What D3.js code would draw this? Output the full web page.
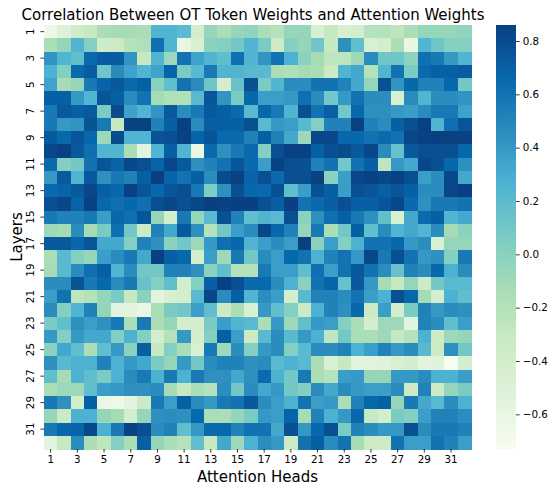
<!DOCTYPE html>
<html>
<head>
<meta charset="utf-8">
<script src="https://cdn.jsdelivr.net/npm/d3@7"></script>
<style>
  html, body { margin: 0; padding: 0; background: #fff; }
  svg text { font-family: "DejaVu Sans", sans-serif; fill: #000; }
</style>
</head>
<body>
<svg id="chart" width="549" height="486"></svg>
<script>
// ---- data ----
const title = "Correlation Between OT Token Weights and Attention Weights";
const xLabel = "Attention Heads";
const yLabel = "Layers";
const heads = d3.range(1, 33);   // attention heads 1..32
const layers = d3.range(1, 33);  // layers 1..32
const headTicks = [1,3,5,7,9,11,13,15,17,19,21,23,25,27,29,31];
const layerTicks = [1,3,5,7,9,11,13,15,17,19,21,23,25,27,29,31];
const colorbarTicks = [0.8, 0.6, 0.4, 0.2, 0.0, -0.2, -0.4, -0.6];
const palette = ["#f7fcf0","#e0f3db","#ccebc5","#a8ddb5","#7bccc4","#4eb3d3","#2b8cbe","#0868ac","#084081"];

const row01 = [-0.65,-0.5,-0.35,-0.3,-0.15,-0.12,-0.12,-0.15,0.25,0.25,0.2,-0.4,-0.05,-0.15,-0.05,-0.03,-0.15,-0.2,-0.05,-0.05,-0.45,-0.3,-0.45,-0.4,-0.2,-0.2,-0.25,-0.15,-0.05,-0.05,-0.05,-0.03];
const row02 = [-0.15,-0.05,0.25,0.03,-0.35,-0.33,-0.2,-0.17,0.62,0.25,-0.6,-0.45,0.0,0.03,0.1,0.25,0.07,-0.33,0.03,-0.05,0.12,-0.3,0.44,0.18,-0.45,-0.4,-0.15,-0.6,0.25,0.12,0.03,0.03];
const row03 = [0.42,0.25,0.18,0.65,0.72,0.72,0.42,-0.3,0.25,-0.08,0.6,0.35,0.25,0.18,0.62,0.25,0.42,0.6,0.27,0.0,-0.12,-0.25,-0.25,-0.08,0.47,0.12,0.12,-0.02,0.62,0.57,0.4,0.25];
const row04 = [0.27,0.03,0.65,0.72,0.12,0.47,0.35,0.25,0.35,0.68,0.07,0.22,0.57,0.25,0.25,0.22,0.22,-0.15,-0.17,-0.12,-0.15,-0.33,0.25,0.32,-0.2,0.25,0.6,0.07,0.65,0.7,0.7,0.72];
const row05 = [0.35,-0.12,-0.05,0.57,0.68,0.74,0.65,0.7,0.0,0.18,0.6,0.47,0.12,-0.4,0.15,0.77,0.07,0.25,0.47,0.47,0.6,0.6,0.52,0.32,-0.05,0.78,0.42,0.66,0.52,0.52,0.66,0.1];
const row06 = [0.7,0.7,0.4,0.25,0.75,0.7,0.46,0.6,-0.12,-0.17,-0.17,0.22,0.75,0.42,0.07,0.66,0.37,0.37,0.4,0.62,0.47,0.1,0.4,0.6,0.46,0.46,-0.45,0.47,0.25,0.46,0.46,0.42];
const row07 = [0.57,0.73,0.7,0.73,0.07,0.8,0.35,0.25,0.42,0.73,0.47,0.57,0.73,0.7,0.65,0.22,0.66,0.57,0.25,0.78,0.6,0.7,0.1,0.66,0.44,0.44,0.4,0.37,0.47,0.57,0.57,0.35];
const row08 = [0.57,0.4,0.42,0.76,0.57,-0.3,0.85,0.85,0.52,0.7,0.85,0.46,0.7,0.7,0.7,0.78,0.22,0.4,0.37,0.22,0.03,0.52,0.52,0.85,0.52,0.47,0.7,0.78,0.85,0.25,0.62,0.75];
const row09 = [0.73,0.66,0.75,0.66,-0.08,0.8,0.25,0.25,0.76,0.78,0.85,0.68,0.76,0.65,0.65,0.52,0.7,0.52,0.32,-0.08,0.82,0.82,0.66,0.66,0.6,0.65,0.6,0.82,0.85,0.86,0.85,0.85];
const row10 = [0.82,0.86,0.73,0.62,0.25,0.25,-0.15,-0.55,0.25,0.7,0.25,-0.62,0.65,0.44,0.57,0.65,0.03,0.78,0.85,0.85,0.7,0.78,0.8,0.73,0.82,0.47,0.15,0.73,0.78,0.78,0.78,0.66];
const row11 = [0.65,0.03,0.1,0.6,0.75,0.68,0.82,0.78,0.68,0.82,0.73,0.44,0.52,0.6,0.75,0.65,0.37,0.85,0.78,0.78,0.52,0.6,0.1,0.6,0.7,-0.25,0.4,0.32,0.82,0.78,0.66,0.44];
const row12 = [0.4,0.73,0.25,0.73,0.44,0.57,0.52,0.7,0.86,0.68,0.6,0.7,0.46,0.8,0.85,0.68,0.78,0.65,0.78,0.78,0.85,0.0,0.37,0.82,0.85,0.82,0.85,0.78,0.37,0.46,0.82,0.32];
const row13 = [0.65,0.68,0.73,0.82,0.7,0.66,0.85,0.75,0.66,0.75,0.78,0.57,0.05,0.44,0.78,0.66,0.65,0.78,0.18,0.37,0.78,0.7,0.37,0.78,0.75,0.7,0.75,0.7,0.46,0.46,0.82,0.86];
const row14 = [0.78,0.82,0.68,0.85,0.66,0.62,0.66,0.62,0.78,0.82,0.78,0.82,0.86,0.85,0.86,0.86,0.78,0.7,0.86,0.6,0.65,0.7,0.78,0.7,0.7,0.75,0.82,0.65,0.44,0.57,0.57,0.6];
const row15 = [0.57,0.52,0.52,0.57,0.37,0.66,0.62,0.75,-0.05,-0.4,0.57,-0.05,0.22,0.78,0.52,0.18,0.25,0.22,0.78,0.0,0.44,0.62,0.7,0.57,0.44,0.18,-0.45,0.32,0.65,0.7,0.25,0.32];
const row16 = [-0.08,-0.12,0.46,-0.12,0.07,0.62,0.1,-0.33,0.52,0.32,0.73,0.44,-0.2,0.1,0.37,0.46,0.82,0.66,0.52,-0.05,0.57,-0.15,0.1,0.7,0.18,0.47,0.25,0.32,0.25,0.46,-0.12,0.0];
const row17 = [0.73,0.73,0.66,0.75,0.32,0.32,0.03,0.52,0.44,0.0,0.1,-0.08,0.4,0.62,0.66,0.25,0.37,0.46,0.37,0.86,0.0,0.37,0.03,0.27,0.6,0.6,0.66,0.4,0.46,-0.45,-0.05,-0.05];
const row18 = [-0.15,0.22,0.03,-0.05,0.37,0.47,0.57,0.32,0.86,0.7,0.66,-0.4,0.37,-0.08,0.57,0.1,0.47,0.37,0.66,0.6,0.27,0.52,0.6,0.4,0.82,0.57,0.78,0.6,0.4,0.44,0.03,0.57];
const row19 = [-0.12,0.22,0.46,0.62,0.7,0.25,0.46,0.1,0.1,0.52,0.52,0.44,0.0,0.18,-0.2,-0.2,0.57,0.37,0.37,0.18,0.62,0.37,0.6,0.73,0.6,0.46,0.15,0.52,0.46,0.66,0.27,0.47];
const row20 = [0.46,0.46,0.76,0.57,0.66,0.47,0.57,0.15,0.03,0.18,-0.4,0.03,0.7,0.86,0.78,0.65,0.66,0.46,0.27,0.0,0.6,0.68,0.15,0.73,0.4,-0.12,-0.3,-0.05,-0.33,0.1,0.22,0.22];
const row21 = [0.37,0.6,-0.25,-0.2,-0.05,0.07,-0.3,0.0,-0.55,-0.45,-0.4,0.22,0.82,0.47,0.7,0.25,0.46,0.37,-0.4,0.22,0.52,0.52,0.47,0.6,0.37,0.27,0.78,0.66,-0.12,-0.4,0.27,0.18];
const row22 = [0.47,0.03,0.25,0.52,-0.05,-0.55,-0.55,-0.6,-0.15,0.07,0.1,0.37,0.18,-0.33,-0.15,-0.45,0.4,0.18,0.03,-0.33,0.27,0.52,0.44,0.66,-0.33,0.37,-0.4,0.07,0.52,0.4,0.46,0.44];
const row23 = [0.07,0.18,0.44,0.37,0.44,0.57,-0.15,0.57,-0.15,-0.05,-0.4,-0.4,0.07,0.37,0.25,0.22,-0.15,0.4,-0.08,0.18,0.4,0.37,0.03,-0.15,-0.4,-0.08,-0.08,-0.55,0.52,0.46,0.18,0.37];
const row24 = [0.4,0.03,0.4,0.32,0.32,0.03,0.27,0.03,-0.4,-0.2,0.4,-0.4,0.03,0.7,0.37,-0.33,0.22,0.46,0.22,0.4,0.27,-0.25,0.1,-0.15,-0.15,-0.08,-0.3,-0.2,0.27,-0.33,-0.08,-0.05];
const row25 = [0.0,0.32,0.18,-0.15,0.18,0.4,0.0,0.7,-0.3,0.03,-0.15,-0.45,0.57,-0.08,0.46,0.03,0.4,0.46,0.03,0.22,0.47,0.46,0.52,0.27,0.37,0.52,0.4,0.46,0.22,-0.33,0.44,0.1];
const row26 = [0.44,0.22,0.27,0.27,0.52,0.27,0.4,0.32,0.07,-0.05,0.4,0.1,0.46,0.52,0.52,0.44,0.47,0.22,0.27,0.22,-0.15,-0.45,-0.3,-0.55,-0.55,-0.52,-0.45,-0.4,-0.55,-0.52,-0.73,-0.4];
const row27 = [0.18,-0.12,0.27,0.18,0.07,0.27,0.47,0.57,0.27,0.57,0.27,0.57,0.44,0.44,0.32,0.44,0.65,0.27,0.1,0.57,-0.15,-0.2,0.37,0.4,-0.05,-0.05,0.4,0.4,0.47,0.27,0.27,0.37];
const row28 = [-0.15,-0.08,-0.08,0.18,0.37,0.4,0.44,0.44,0.47,-0.12,-0.3,-0.15,-0.2,0.46,0.1,0.46,0.32,0.4,0.1,0.03,0.47,0.32,0.47,0.4,0.37,0.37,0.47,-0.33,0.52,-0.33,-0.05,0.07];
const row29 = [0.57,0.44,-0.4,0.7,-0.62,-0.65,-0.55,-0.33,0.57,0.37,0.7,0.47,0.4,0.57,0.6,0.73,0.46,0.37,0.27,0.6,0.37,0.4,-0.15,0.52,0.66,0.7,-0.05,0.57,0.32,0.22,0.46,0.27];
const row30 = [-0.05,-0.33,0.27,0.27,-0.05,-0.12,-0.4,-0.05,0.44,0.46,0.44,0.66,-0.15,-0.15,-0.05,0.07,0.4,0.37,0.68,-0.12,0.52,0.27,0.4,0.66,-0.3,-0.4,0.07,0.03,0.37,0.52,0.52,0.46];
const row31 = [0.57,0.66,0.68,0.82,0.27,0.57,0.85,0.78,0.46,0.52,0.18,0.4,0.65,0.66,0.52,0.6,0.6,0.32,0.78,0.4,0.66,0.78,0.07,0.52,0.46,0.4,0.4,0.78,0.47,0.57,0.57,0.52];
const row32 = [-0.55,-0.3,0.46,-0.15,-0.25,0.03,-0.15,0.7,-0.05,-0.15,-0.2,0.18,-0.3,0.32,-0.08,0.27,0.46,0.4,-0.33,0.6,0.7,0.47,0.6,-0.12,-0.33,-0.33,0.6,0.37,0.37,0.6,0.52,0.37];

const values = [row01,row02,row03,row04,row05,row06,row07,row08,row09,row10,row11,row12,row13,row14,row15,row16,
                row17,row18,row19,row20,row21,row22,row23,row24,row25,row26,row27,row28,row29,row30,row31,row32];

// ---- layout ----
const svg = d3.select("#chart");
const plot = {left: 44, top: 25, right: 471, bottom: 449};
const cbar = {left: 496, width: 20};
const tickFont = "10.3px";
const tickLen = 3.6;

const x = d3.scaleBand().domain(heads).range([plot.left, plot.right]);
const y = d3.scaleBand().domain(layers).range([plot.top, plot.bottom]);

const allVals = values.flat();
const [vmin, vmax] = d3.extent(allVals);
const color = d3.scaleLinear()
  .domain(palette.map((_, i) => vmin + (vmax - vmin) * i / (palette.length - 1)))
  .range(palette)
  .interpolate(d3.interpolateRgb);

// cells
const cells = [];
values.forEach((row, i) => row.forEach((v, j) => cells.push({layer: layers[i], head: heads[j], v})));
svg.append("g").selectAll("rect").data(cells).join("rect")
  .attr("x", d => x(d.head))
  .attr("y", d => y(d.layer))
  .attr("width", x.bandwidth() + 0.5)
  .attr("height", y.bandwidth() + 0.5)
  .attr("fill", d => color(d.v))
  .attr("shape-rendering", "crispEdges");

// x axis
const xAxis = svg.append("g")
  .attr("transform", `translate(0,${plot.bottom})`)
  .call(d3.axisBottom(x).tickValues(headTicks).tickSize(tickLen).tickPadding(3.5));
xAxis.select(".domain").remove();
xAxis.selectAll("line").attr("stroke", "#000").attr("stroke-width", 0.8);
xAxis.selectAll("text").attr("font-size", tickFont).attr("font-family", "DejaVu Sans");

// y axis
const yAxis = svg.append("g")
  .attr("transform", `translate(${plot.left},0)`)
  .call(d3.axisLeft(y).tickValues(layerTicks).tickSize(tickLen).tickPadding(3.5));
yAxis.select(".domain").remove();
yAxis.selectAll("line").attr("stroke", "#000").attr("stroke-width", 0.8);
yAxis.selectAll("text")
  .attr("font-size", tickFont).attr("font-family", "DejaVu Sans")
  .attr("x", 0).attr("dy", 0)
  .attr("text-anchor", "middle")
  .attr("transform", "translate(-10.3,0) rotate(-90)");

// colorbar
const cScale = d3.scaleLinear().domain([vmin, vmax]).range([plot.bottom, plot.top]);
const defs = svg.append("defs");
const grad = defs.append("linearGradient").attr("id", "cbgrad")
  .attr("x1", 0).attr("y1", 1).attr("x2", 0).attr("y2", 0);
grad.selectAll("stop").data(palette).join("stop")
  .attr("offset", (d, i) => i / (palette.length - 1))
  .attr("stop-color", d => d);
svg.append("rect")
  .attr("x", cbar.left).attr("y", plot.top)
  .attr("width", cbar.width).attr("height", plot.bottom - plot.top)
  .attr("fill", "url(#cbgrad)");
const cAxis = svg.append("g")
  .attr("transform", `translate(${cbar.left + cbar.width},0)`)
  .call(d3.axisRight(cScale).tickValues(colorbarTicks).tickFormat(d3.format(".1f")).tickSize(tickLen).tickPadding(3.2));
cAxis.select(".domain").remove();
cAxis.selectAll("line").attr("stroke", "#000").attr("stroke-width", 0.8);
cAxis.selectAll("text").attr("font-size", tickFont).attr("font-family", "DejaVu Sans");

// title & labels
const cx = (plot.left + plot.right) / 2;
svg.append("text").attr("x", 253).attr("y", 20)
  .attr("text-anchor", "middle").attr("font-size", "15px").text(title);
svg.append("text").attr("x", cx).attr("y", 482)
  .attr("text-anchor", "middle").attr("font-size", "15px").text(xLabel);
svg.append("text")
  .attr("transform", `translate(22,${(plot.top + plot.bottom) / 2}) rotate(-90)`)
  .attr("text-anchor", "middle").attr("font-size", "15px").text(yLabel);
</script>
</body>
</html>
